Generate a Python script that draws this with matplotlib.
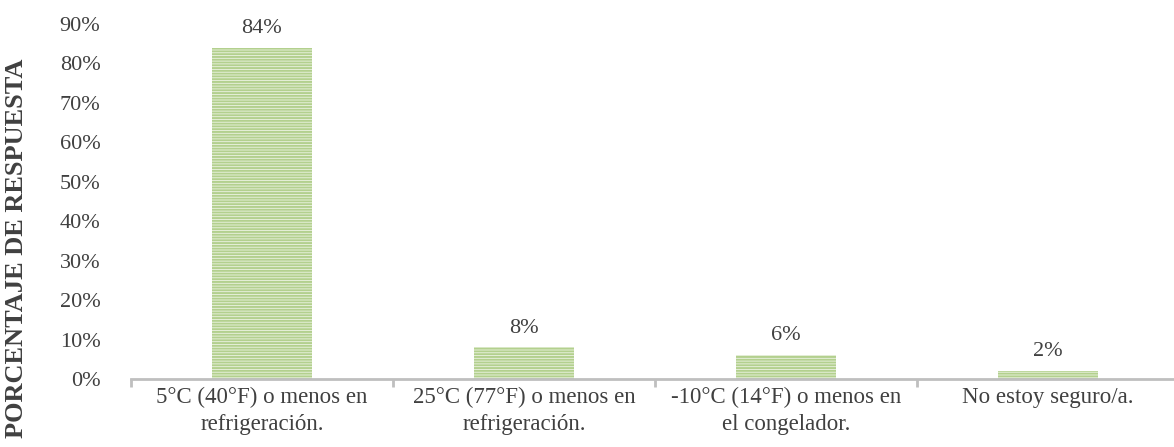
import numpy as np
import matplotlib.pyplot as plt

plt.rcParams['font.family'] = ['Liberation Serif', 'DejaVu Serif']
plt.rcParams['hatch.linewidth'] = 1.4

categories = ['5°C (40°F) o menos en\nrefrigeración.',
              '25°C (77°F) o menos en\nrefrigeración.',
              '-10°C (14°F) o menos en\nel congelador.',
              'No estoy seguro/a.']
values = [84, 8, 6, 2]
yticks = np.arange(0, 100, 10)

text_col = '#404040'
axis_col = '#bfbfbf'

fig = plt.figure(figsize=(11.74, 4.47), dpi=100)
ax = fig.add_axes([131 / 1174, 68 / 447, 1048 / 1174, 355 / 447])

x = np.arange(len(categories))
ax.bar(x, values, width=0.38, color='#edf4e4', edgecolor='#b3d08e',
       linewidth=0, hatch='------')

for xi, v in zip(x, values):
    ax.text(xi, v + 2.5, '%d%%' % v, ha='center', va='bottom',
            fontsize=16, color=text_col)

ax.set_xlim(-0.5, len(categories) - 0.5)
ax.set_ylim(0, 90)
ax.set_yticks(yticks)
ax.set_yticklabels(['%d%%' % t for t in yticks], fontsize=16, color=text_col)
ax.tick_params(axis='y', length=0, pad=22)

# category labels centred under bars, ticks on the boundaries
ax.set_xticks(x)
ax.set_xticklabels(categories, fontsize=16.5, color=text_col, linespacing=1.35)
ax.tick_params(axis='x', which='major', length=0, pad=6)
ax.set_xticks(np.arange(-0.5, len(categories), 1), minor=True)
ax.tick_params(axis='x', which='minor', length=6, width=2, color=axis_col)

for side in ['top', 'right', 'left']:
    ax.spines[side].set_visible(False)
ax.spines['bottom'].set_color(axis_col)
ax.spines['bottom'].set_linewidth(2)

fig.text(17 / 1174, 199 / 447, 'PORCENTAJE DE RESPUESTA', rotation=90,
         ha='center', va='center', fontsize=19, fontweight='bold',
         color=text_col)

fig.savefig('out.png', dpi=100)
